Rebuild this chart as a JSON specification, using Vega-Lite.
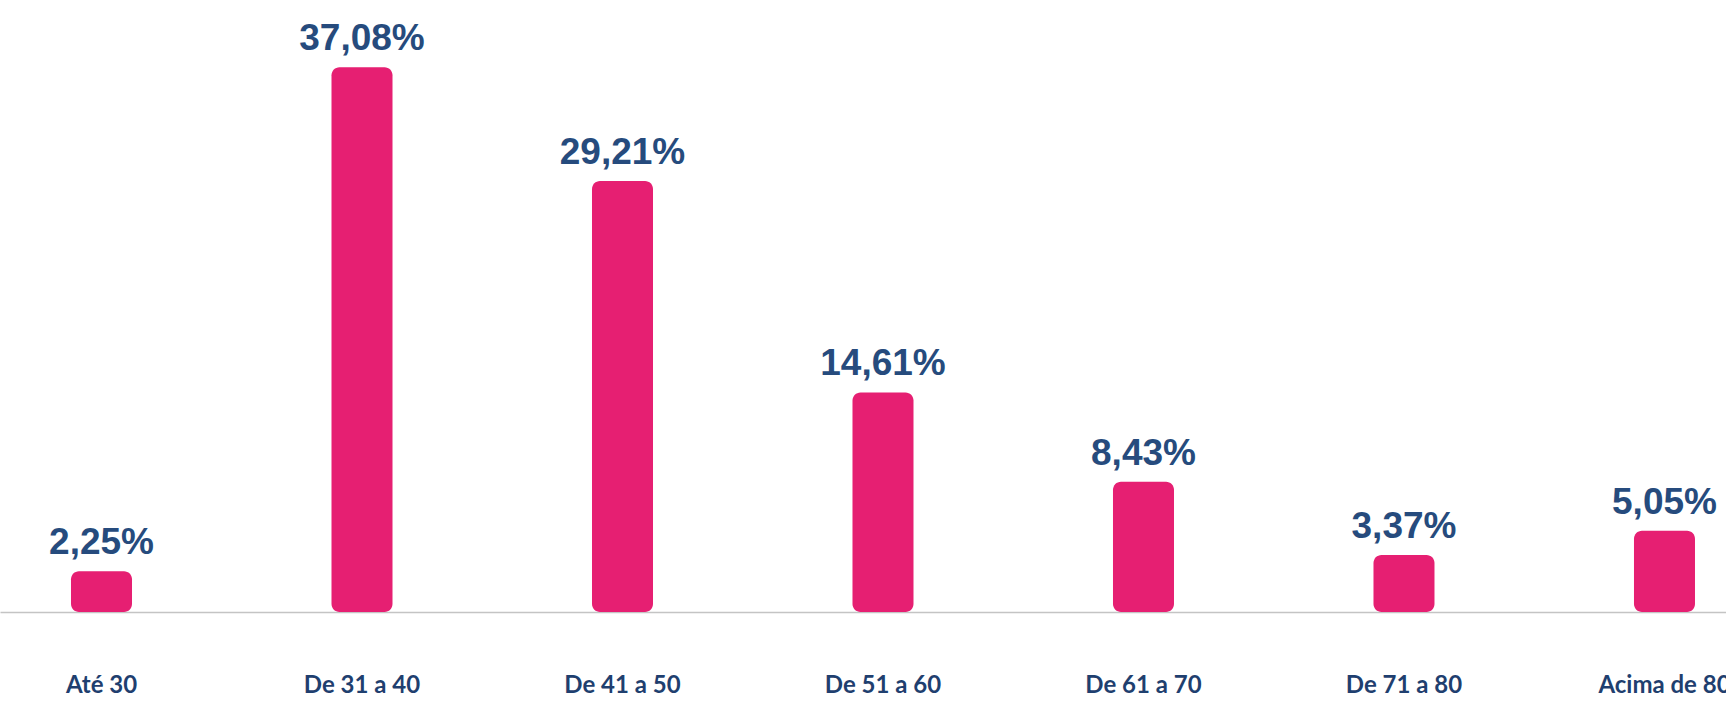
{
  "$schema": "https://vega.github.io/schema/vega-lite/v6.json",
  "width": 1726,
  "height": 612,
  "autosize": "none",
  "padding": {"top": 0, "left": 0, "right": 0, "bottom": 89},
  "background": "white",
  "config": {"view": {"stroke": null}},
  "data": {
    "values": [
      {"faixa": "Até 30", "pct": 2.25, "label": "2,25%"},
      {"faixa": "De 31 a 40", "pct": 37.08, "label": "37,08%"},
      {"faixa": "De 41 a 50", "pct": 29.21, "label": "29,21%"},
      {"faixa": "De 51 a 60", "pct": 14.61, "label": "14,61%"},
      {"faixa": "De 61 a 70", "pct": 8.43, "label": "8,43%"},
      {"faixa": "De 71 a 80", "pct": 3.37, "label": "3,37%"},
      {"faixa": "Acima de 80", "pct": 5.05, "label": "5,05%"}
    ]
  },
  "encoding": {
    "x": {
      "field": "faixa",
      "type": "nominal",
      "sort": null,
      "scale": {"paddingInner": 0.7658, "paddingOuter": 0.1958, "align": 0.696},
      "axis": {
        "title": null,
        "labelAngle": 0,
        "ticks": false,
        "tickSize": 0,
        "grid": false,
        "domainColor": "#c4c4c4",
        "domainWidth": 1.5,
        "labelFont": "Lato",
        "labelFontWeight": "bold",
        "labelFontSize": 24,
        "labelColor": "#1F3F6F",
        "labelPadding": 80,
        "labelBaseline": "alphabetic"
      }
    },
    "y": {
      "field": "pct",
      "type": "quantitative",
      "scale": {"domain": [-0.56, 41.72], "nice": false, "zero": false},
      "axis": null
    }
  },
  "layer": [
    {
      "mark": {"type": "bar", "color": "#E61F72", "cornerRadius": 8},
      "encoding": {"y2": {"datum": -0.56}}
    },
    {
      "mark": {
        "type": "text",
        "font": "Liberation Sans",
        "fontWeight": "bold",
        "fontSize": 37,
        "color": "#264B7D",
        "baseline": "alphabetic",
        "dy": -17
      },
      "encoding": {"text": {"field": "label"}}
    }
  ]
}
